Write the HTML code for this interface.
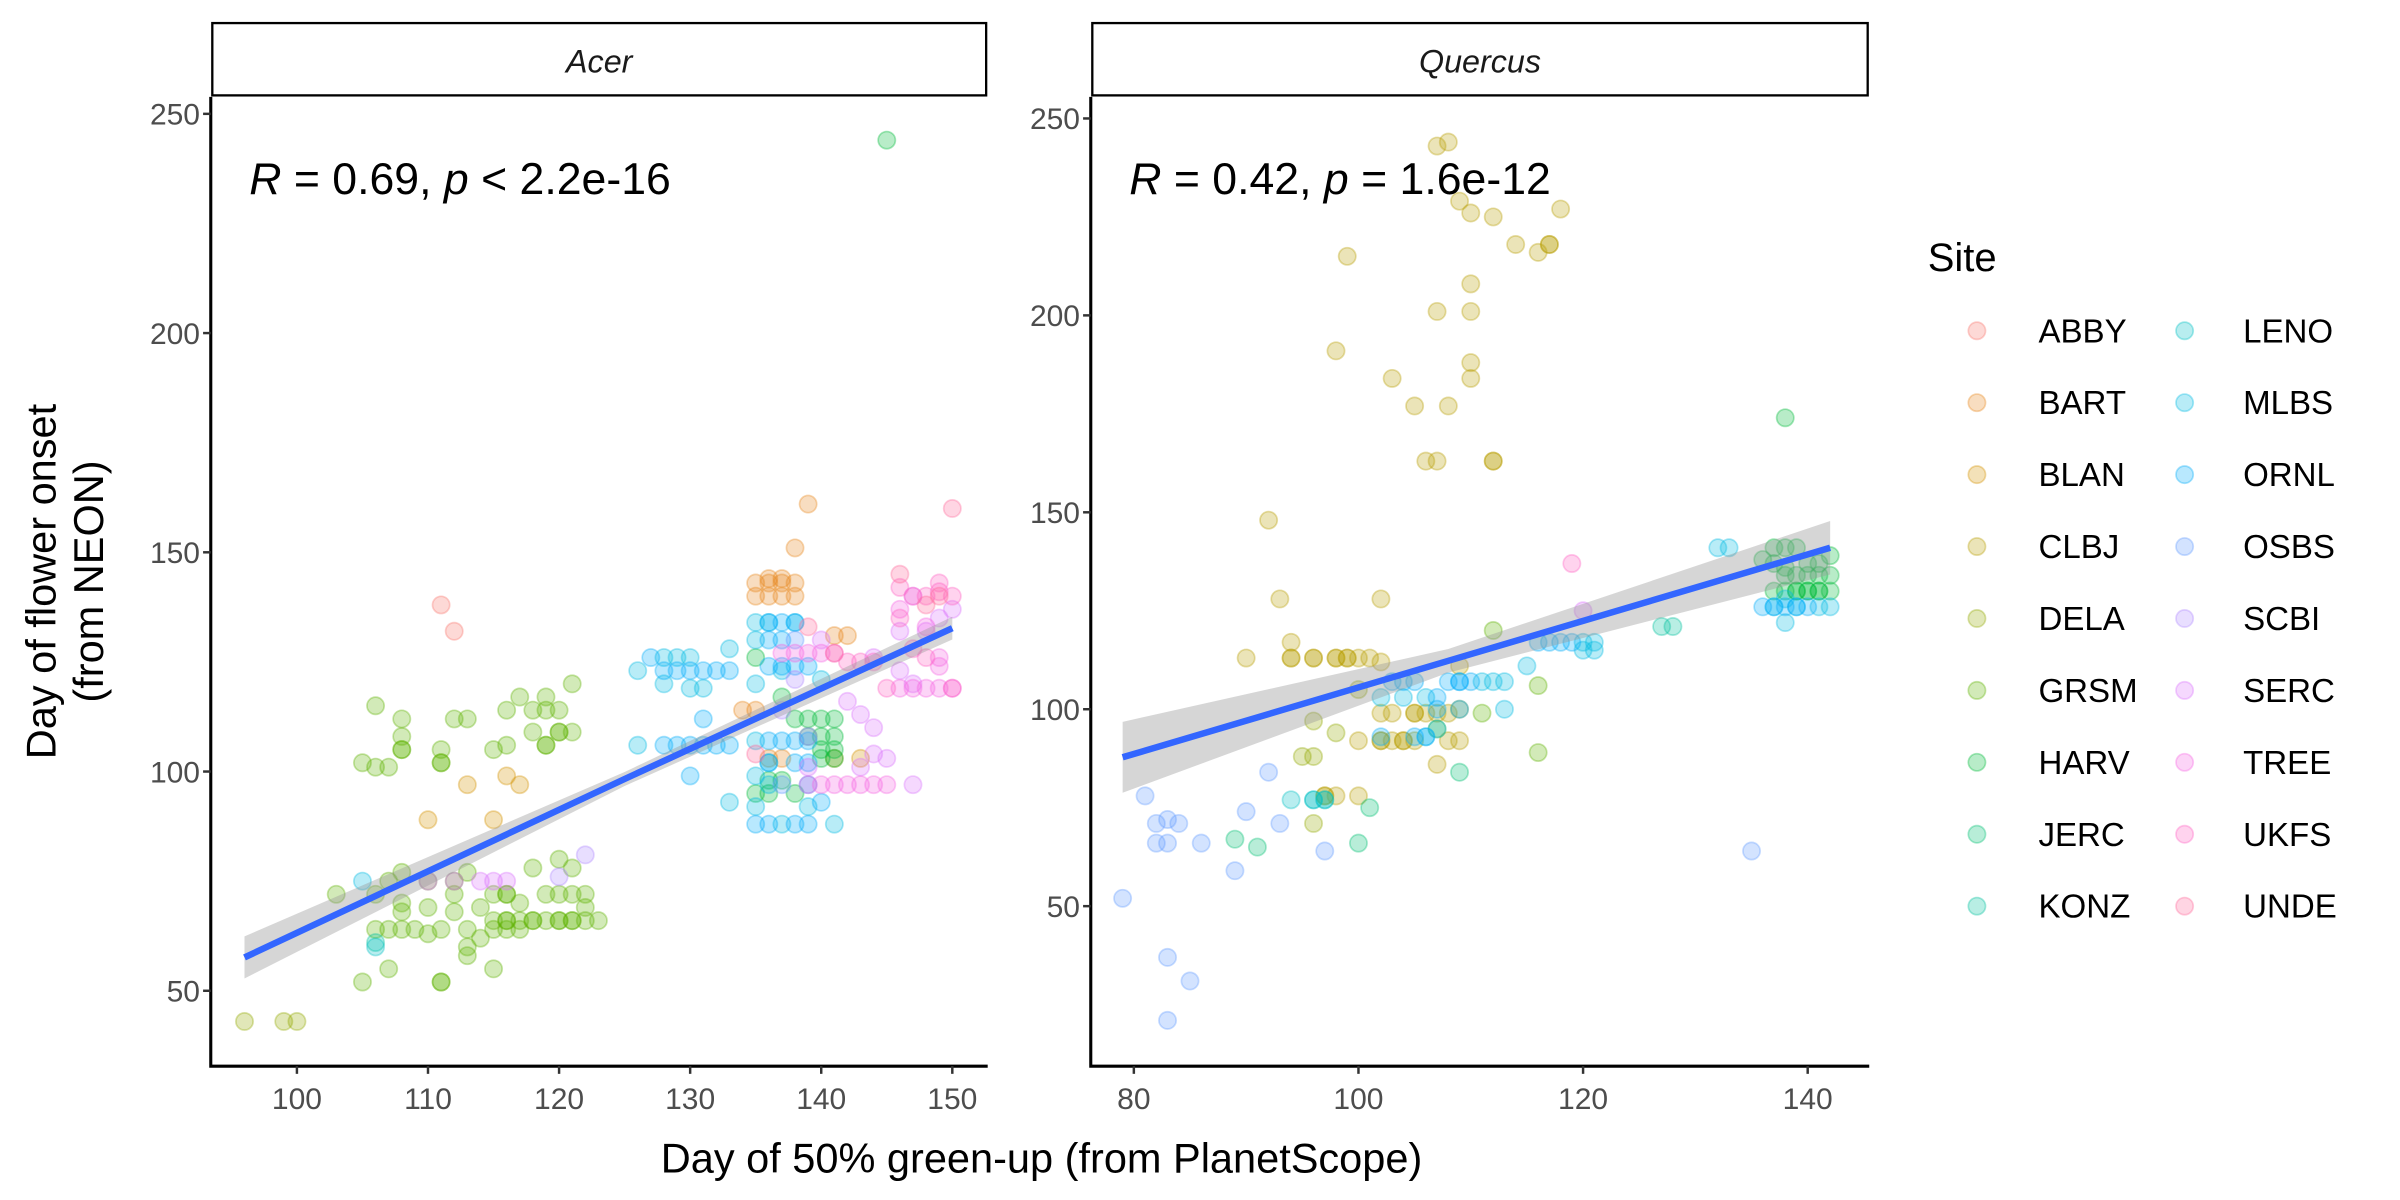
<!DOCTYPE html>
<html><head><meta charset="utf-8"><style>
html,body{margin:0;padding:0;background:#fff}
svg{display:block}
text{font-family:"Liberation Sans",Arial,sans-serif}
</style></head><body>
<svg id="chart" width="2400" height="1200" viewBox="0 0 1560 780" xmlns="http://www.w3.org/2000/svg">
<rect x="0" y="0" width="1560" height="780" fill="#fff"/>
<g id="acer"></g>
<g id="quercus"></g>
<g id="legend"></g>
<text x="677" y="762" font-size="27" text-anchor="middle" fill="#000">Day of 50% green-up (from PlanetScope)</text>
<text transform="translate(36,378) rotate(-90)" font-size="27" text-anchor="middle" fill="#000"><tspan x="0" y="0">Day of flower onset</tspan><tspan x="0" y="31">(from NEON)</tspan></text>
</svg>
<script>
const siteNames=["ABBY","BART","BLAN","CLBJ","DELA","GRSM","HARV","JERC","KONZ","LENO","MLBS","ORNL","OSBS","SCBI","SERC","TREE","UKFS","UNDE"];
const siteColors=["#F8766D","#E7861B","#D39200","#B79F00","#93AA00","#5EB300","#00BA38","#00BF74","#00C19F","#00BFC4","#00B9E3","#00ADFA","#619CFF","#AE87FF","#DB72FB","#F564E3","#FF61C3","#FF699C"];

const acerXTicks=[100,110,120,130,140,150];
const acerYTicks=[50,100,150,200,250];
const quercusXTicks=[80,100,120,140];
const quercusYTicks=[50,100,150,200,250];

const acerPts={
ABBY:[[111,138],[112,132]],
BART:[[135,143],[136,143],[137,143],[138,143],[135,140],[136,140],[137,140],[138,140],[136,144],[137,144],[139,161],[138,151],[136,103],[137,103],[141,131],[142,131],[134,114],[135,114]],
BLAN:[[113,97],[116,99],[117,97],[110,89],[115,89],[141,103],[143,103]],
DELA:[[96,43],[99,43],[100,43]],
GRSM:[[106,115],[108,112],[108,108],[108,105],[105,102],[106,101],[107,101],[111,105],[111,102],[112,112],[113,112],[115,105],[116,106],[116,114],[117,117],[118,114],[119,117],[119,114],[120,114],[118,109],[120,109],[121,109],[119,106],[121,120],
[103,72],[106,72],[107,75],[108,77],[108,70],[108,68],[110,75],[110,69],[112,75],[112,72],[112,68],[113,77],[114,69],[115,72],[116,72],[117,70],[118,78],[119,72],[120,80],[121,78],[120,72],[121,72],[122,72],[122,69],[106,64],[107,64],[108,64],[109,64],[110,63],[111,64],[113,64],[114,62],[115,64],[116,64],[117,64],[115,66],[116,66],[117,66],[118,66],[119,66],[120,66],[121,66],[122,66],[123,66],[113,58],[107,55],[105,52],[111,52],[115,55],
[108,105],[111,102],[119,106],[120,109],[113,60],[111,52],[116,66],[120,66],[121,66],[116,72],[118,66]],
HARV:[[145,244],[140,112],[141,112],[140,108],[141,108],[140,105],[141,105],[139,112],[139,108],[135,95],[136,95],[138,95],[136,98],[137,98],[135,126],[137,117],[140,103],[141,103],[138,112]],
JERC:[],
KONZ:[[106,61]],
LENO:[[106,60]],
MLBS:[[105,75],[126,123],[128,120],[130,119],[131,119],[128,126],[129,126],[130,126],[133,128],[126,106],[133,93],[135,134],[136,134],[135,130],[135,120],[135,107],[136,102],[135,99],[135,92],[137,88],[141,88],[139,92],[136,97],[140,121],[138,134],[137,123]],
ORNL:[[127,126],[128,123],[129,123],[130,123],[131,123],[132,123],[133,123],[128,106],[129,106],[130,106],[131,106],[132,106],[133,106],[131,112],[130,99],[135,88],[136,88],[138,88],[139,88],[136,134],[137,134],[138,134],[136,130],[137,130],[136,124],[137,124],[138,124],[139,124],[136,107],[137,107],[138,107],[139,107],[136,102],[138,102],[139,102],[140,93],[139,97]],
OSBS:[[138,130],[137,97]],
SCBI:[[122,81],[120,76],[138,121],[137,114],[139,108]],
SERC:[[114,75],[115,75],[116,75],[112,75],[110,75],[142,116],[143,113],[144,110],[143,101],[145,103],[146,123],[147,120],[146,132],[148,132],[149,135],[150,137],[147,140],[144,104],[147,97],[139,101],[140,130],[144,126]],
TREE:[[139,97],[140,97],[141,97],[142,97],[143,97],[144,97],[145,97],[137,127],[138,127],[139,127],[140,127],[141,127],[146,119],[147,119],[148,119],[149,119],[150,119],[146,137],[148,133],[149,126],[149,124]],
UKFS:[[146,142],[147,140],[148,140],[149,141],[150,140],[149,143],[146,135],[147,128],[148,126],[145,119],[150,119],[143,125],[144,125],[142,125]],
UNDE:[[150,160],[146,145],[148,138],[149,140],[135,104],[141,127],[139,133]]
};

const quercusPts={
ABBY:[],BART:[],BLAN:[],
CLBJ:[[107,243],[108,244],[109,229],[110,226],[112,225],[118,227],[114,218],[116,216],[117,218],[117,218],[99,215],[110,208],[107,201],[110,201],[98,191],[110,188],[110,184],[103,184],[105,177],[108,177],[106,163],[107,163],[112,163],[112,163],[92,148],[93,128],[102,128],[94,117],[90,113],[94,113],[96,113],[98,113],[99,113],[100,113],[101,113],[94,113],[96,113],[98,113],[99,113],[102,112],[109,111],[102,99],[103,99],[105,99],[106,99],[107,99],[108,99],[109,100],[102,92],[103,92],[104,92],[105,92],[108,92],[109,92],[100,92],[107,86],[97,78],[98,78],[97,78],[100,78],[102,92],[104,92],[105,99]],
DELA:[[100,105],[98,94],[96,97],[95,88],[96,88],[96,71]],
GRSM:[[111,99],[112,120],[116,106],[116,89],[107,95]],
HARV:[[138,174],[137,141],[138,141],[139,141],[142,139],[137,137],[138,136],[140,137],[141,137],[138,134],[139,134],[140,134],[141,134],[142,134],[137,130],[138,130],[139,130],[140,130],[141,130],[142,130],[140,130],[141,130],[139,130],[136,138]],
JERC:[[89,67],[91,65],[100,66],[101,75],[109,84]],
KONZ:[[127,121],[128,121]],
LENO:[[94,77],[96,77],[97,77],[96,77],[97,77]],
MLBS:[[132,141],[133,141],[115,111],[120,115],[121,115],[120,117],[121,117],[113,107],[112,107],[111,107],[102,103],[104,103],[106,103],[113,100],[138,122],[142,126],[141,126],[139,126],[137,126],[138,128],[107,95],[106,93]],
ORNL:[[103,107],[104,107],[105,107],[108,107],[109,107],[110,107],[107,103],[107,100],[109,100],[102,93],[105,93],[106,93],[116,117],[117,117],[118,117],[119,117],[136,126],[138,126],[140,126],[137,126],[139,126],[109,107]],
OSBS:[[81,78],[82,71],[83,72],[84,71],[82,66],[83,66],[86,66],[90,74],[92,84],[93,71],[97,64],[89,59],[79,52],[83,37],[85,31],[83,21],[135,64]],
SCBI:[],
SERC:[[120,125]],
TREE:[],
UKFS:[[119,137]],
UNDE:[]
};

const acerFitX=[96,125,150];
const acerFitY=[57.6,98.3,132.7];
const acerFitHalf=[4.8,1.6,2.6];
const quercusFitX=[79,108,142];
const quercusFitY=[87.8,112.3,141.0];
const quercusFitHalf=[9.0,3.0,6.8];

const NS="http://www.w3.org/2000/svg";
function mk(tag,attrs,parent){const e=document.createElementNS(NS,tag);for(const k in attrs)e.setAttribute(k,attrs[k]);parent.appendChild(e);return e;}

function drawPanel(g,cfg){
  const {left,right,top,bottom,X,Y,xt,yt,pts,fx,fy,fh,title,ann1,ann2} = cfg;
  const strip=mk('rect',{x:left+1,y:15,width:right-left-2,height:47,fill:'#fff',stroke:'#000','stroke-width':1.5},g);
  
  
  const st=mk('text',{x:(left+right)/2,y:47,'font-size':21,'font-style':'italic','text-anchor':'middle',fill:'#1a1a1a'},g);
  st.textContent=title;
  
  
  const pg=mk('g',{},g);
  
  
  siteNames.forEach((s,si)=>{
    (pts[s]||[]).forEach(p=>{
      const c=mk('circle',{cx:X(p[0]),cy:Y(p[1]),r:5.6,fill:siteColors[si],'fill-opacity':0.28,stroke:siteColors[si],'stroke-opacity':0.35,'stroke-width':1.1},pg);
      
      
    });
  });
  const up=fx.map((x,i)=>X(x)+','+Y(fy[i]+fh[i]));
  const lo=fx.map((x,i)=>X(x)+','+Y(fy[i]-fh[i])).reverse();
  const band=mk('polygon',{points:up.concat(lo).join(' '),fill:'#999',opacity:0.4},g);
  
  
  const line=mk('polyline',{points:fx.map((x,i)=>X(x)+','+Y(fy[i])).join(' '),fill:'none',stroke:'#3366FF','stroke-width':4.2},g);
  
  
  const ax=mk('path',{d:`M${left},${top} L${left},${bottom} L${right},${bottom}`,fill:'none',stroke:'#000','stroke-width':2},g);
  
  
  xt.forEach(v=>{
    const t=mk('line',{x1:X(v),x2:X(v),y1:bottom,y2:bottom+5,stroke:'#333','stroke-width':1.6},g);
    
    
    const l=mk('text',{x:X(v),y:bottom+28,'font-size':19.5,'text-anchor':'middle',fill:'#4D4D4D'},g);
    l.textContent=v;
    
    
  });
  yt.forEach(v=>{
    const t=mk('line',{x1:left-5,x2:left,y1:Y(v),y2:Y(v),stroke:'#333','stroke-width':1.6},g);
    
    
    const l=mk('text',{x:left-7,y:Y(v)+7,'font-size':19.5,'text-anchor':'end',fill:'#4D4D4D'},g);
    l.textContent=v;
    
    
  });
  const an=mk('text',{x:left+25,y:126,'font-size':29,fill:'#000'},g);
  
  
  an.innerHTML=`<tspan font-style="italic">R</tspan> = ${ann1}, <tspan font-style="italic">p</tspan> ${ann2}`;
}

drawPanel(document.getElementById('acer'),{
  left:137,right:642,top:63,bottom:693,
  X:v=>193+(v-100)*8.52, Y:v=>501.5-(v-100)*2.85,
  xt:acerXTicks,yt:acerYTicks,pts:acerPts,fx:acerFitX,fy:acerFitY,fh:acerFitHalf,
  title:'Acer',ann1:'0.69',ann2:'&lt; 2.2e-16'
});
drawPanel(document.getElementById('quercus'),{
  left:709,right:1215,top:63,bottom:693,
  X:v=>737+(v-80)*7.3, Y:v=>461-(v-100)*2.56,
  xt:quercusXTicks,yt:quercusYTicks,pts:quercusPts,fx:quercusFitX,fy:quercusFitY,fh:quercusFitHalf,
  title:'Quercus',ann1:'0.42',ann2:'= 1.6e-12'
});

const lg=document.getElementById('legend');
const lt=mk('text',{x:1253,y:176,'font-size':26,fill:'#000'},lg);
lt.textContent='Site';


siteNames.forEach((s,i)=>{
  const col=Math.floor(i/9), row=i%9;
  const cy=215+row*46.75;
  const dx=col?1420:1285, tx=col?1458:1325;
  const c=mk('circle',{cx:dx,cy:cy,r:5.6,fill:siteColors[i],'fill-opacity':0.28,stroke:siteColors[i],'stroke-opacity':0.35,'stroke-width':1.1},lg);
  
  
  const t=mk('text',{x:tx,y:cy+7.5,'font-size':21.5,fill:'#000'},lg);
  t.textContent=s;
  
  
});
</script>
</body></html>
